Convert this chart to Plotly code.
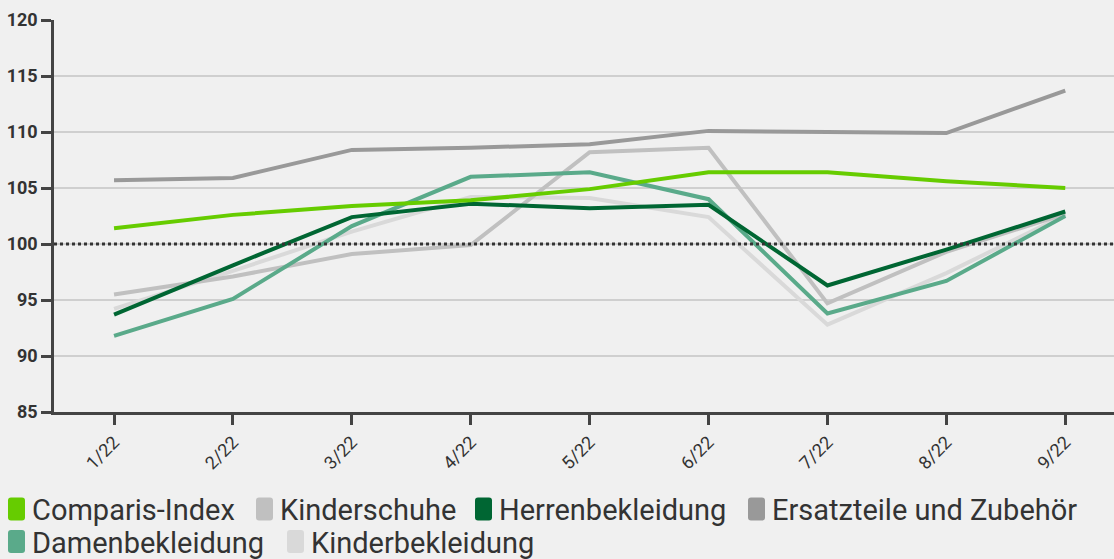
import plotly.graph_objects as go

months = ["1/22", "2/22", "3/22", "4/22", "5/22", "6/22", "7/22", "8/22", "9/22"]

comparis = [101.4, 102.6, 103.4, 103.9, 104.9, 106.4, 106.4, 105.6, 105.0]
kinderschuhe = [95.5, 97.1, 99.1, 99.9, 108.2, 108.6, 94.7, 99.3, 102.7]
herren = [93.7, 98.1, 102.4, 103.6, 103.2, 103.5, 96.3, 99.5, 102.9]
ersatzteile = [105.7, 105.9, 108.4, 108.6, 108.9, 110.1, 110.0, 109.9, 113.7]
damen = [91.8, 95.1, 101.6, 106.0, 106.4, 104.0, 93.8, 96.7, 102.5]
kinderbekleidung = [94.2, 97.6, 101.1, 104.2, 104.1, 102.4, 92.8, 97.4, 102.6]

names = ["Comparis-Index", "Kinderschuhe", "Herrenbekleidung",
         "Ersatzteile und Zubehör", "Damenbekleidung", "Kinderbekleidung"]
values = [comparis, kinderschuhe, herren, ersatzteile, damen, kinderbekleidung]
colors = ["#66cc00", "#c0c0c0", "#006633", "#999999", "#5aaa8a", "#d9d9d9"]

# legend layout (pixel positions of swatch left edge and row centre)
legend_x = [8, 256, 475, 748, 8, 287]
legend_row = [509, 509, 509, 509, 541.5, 541.5]

W, H = 1114, 559
L, R, T, B = 54, 0, 20, 147
pw, ph = W - L - R, H - T - B


def px2paper_x(px):
    return (px - L) / pw


def px2paper_y(py):
    return (H - B - py) / ph


def P(x, y):
    return f"{px2paper_x(x):.5f},{px2paper_y(y):.5f}"


draw_order = [5, 1, 3, 4, 2, 0]

fig = go.Figure()
for i in draw_order:
    fig.add_trace(go.Scatter(x=months, y=values[i], mode="lines", name=names[i],
                             line=dict(color=colors[i], width=4), showlegend=False))

fig.add_shape(type="line", xref="paper", yref="y", x0=0, x1=1, y0=100, y1=100,
              line=dict(color="#333333", width=3, dash="dot"))

# custom legend: rounded swatches + text
sw, sh, rr = 17, 23, 3
for i, name in enumerate(names):
    x0 = legend_x[i]
    yc = legend_row[i]
    x1 = x0 + sw
    y0 = yc - sh / 2
    y1 = yc + sh / 2
    path = (f"M {P(x0 + rr, y0)} L {P(x1 - rr, y0)} Q {P(x1, y0)} {P(x1, y0 + rr)} "
            f"L {P(x1, y1 - rr)} Q {P(x1, y1)} {P(x1 - rr, y1)} "
            f"L {P(x0 + rr, y1)} Q {P(x0, y1)} {P(x0, y1 - rr)} "
            f"L {P(x0, y0 + rr)} Q {P(x0, y0)} {P(x0 + rr, y0)} Z")
    fig.add_shape(type="path", xref="paper", yref="paper", path=path,
                  fillcolor=colors[i], line=dict(width=0))
    fig.add_annotation(text=name, xref="paper", yref="paper",
                       x=px2paper_x(x1 + 6), y=px2paper_y(yc + 1),
                       xanchor="left", yanchor="middle", showarrow=False,
                       font=dict(family="Roboto", size=29, color="#333333"),
                       borderpad=0)

fig.update_layout(
    width=W, height=H,
    paper_bgcolor="#f0f0f0", plot_bgcolor="#f0f0f0",
    margin=dict(l=L, r=R, t=T, b=B),
    font=dict(family="Roboto", color="#333333"),
    showlegend=False,
)
fig.update_xaxes(type="category", range=[-0.505, 8.41], showgrid=False, automargin=False,
                 showline=True, linecolor="#444444", linewidth=2.5,
                 ticks="outside", ticklen=10, tickwidth=2.5, tickcolor="#444444",
                 tickangle=-45, tickfont=dict(size=18, family="Roboto", color="#333333"))
fig.update_yaxes(range=[85, 120], dtick=5, showgrid=True, gridcolor="#cfcfcf", gridwidth=2,
                 automargin=False,
                 showline=True, linecolor="#444444", linewidth=2.5, zeroline=False,
                 ticks="outside", ticklen=10, tickwidth=2.5, tickcolor="#444444",
                 tickfont=dict(size=18, family="Roboto", color="#333333", weight="bold"))

fig.write_html("out.html", config={"displayModeBar": False},
               post_script="document.body.style.margin='0';document.body.style.background='#f0f0f0';")
